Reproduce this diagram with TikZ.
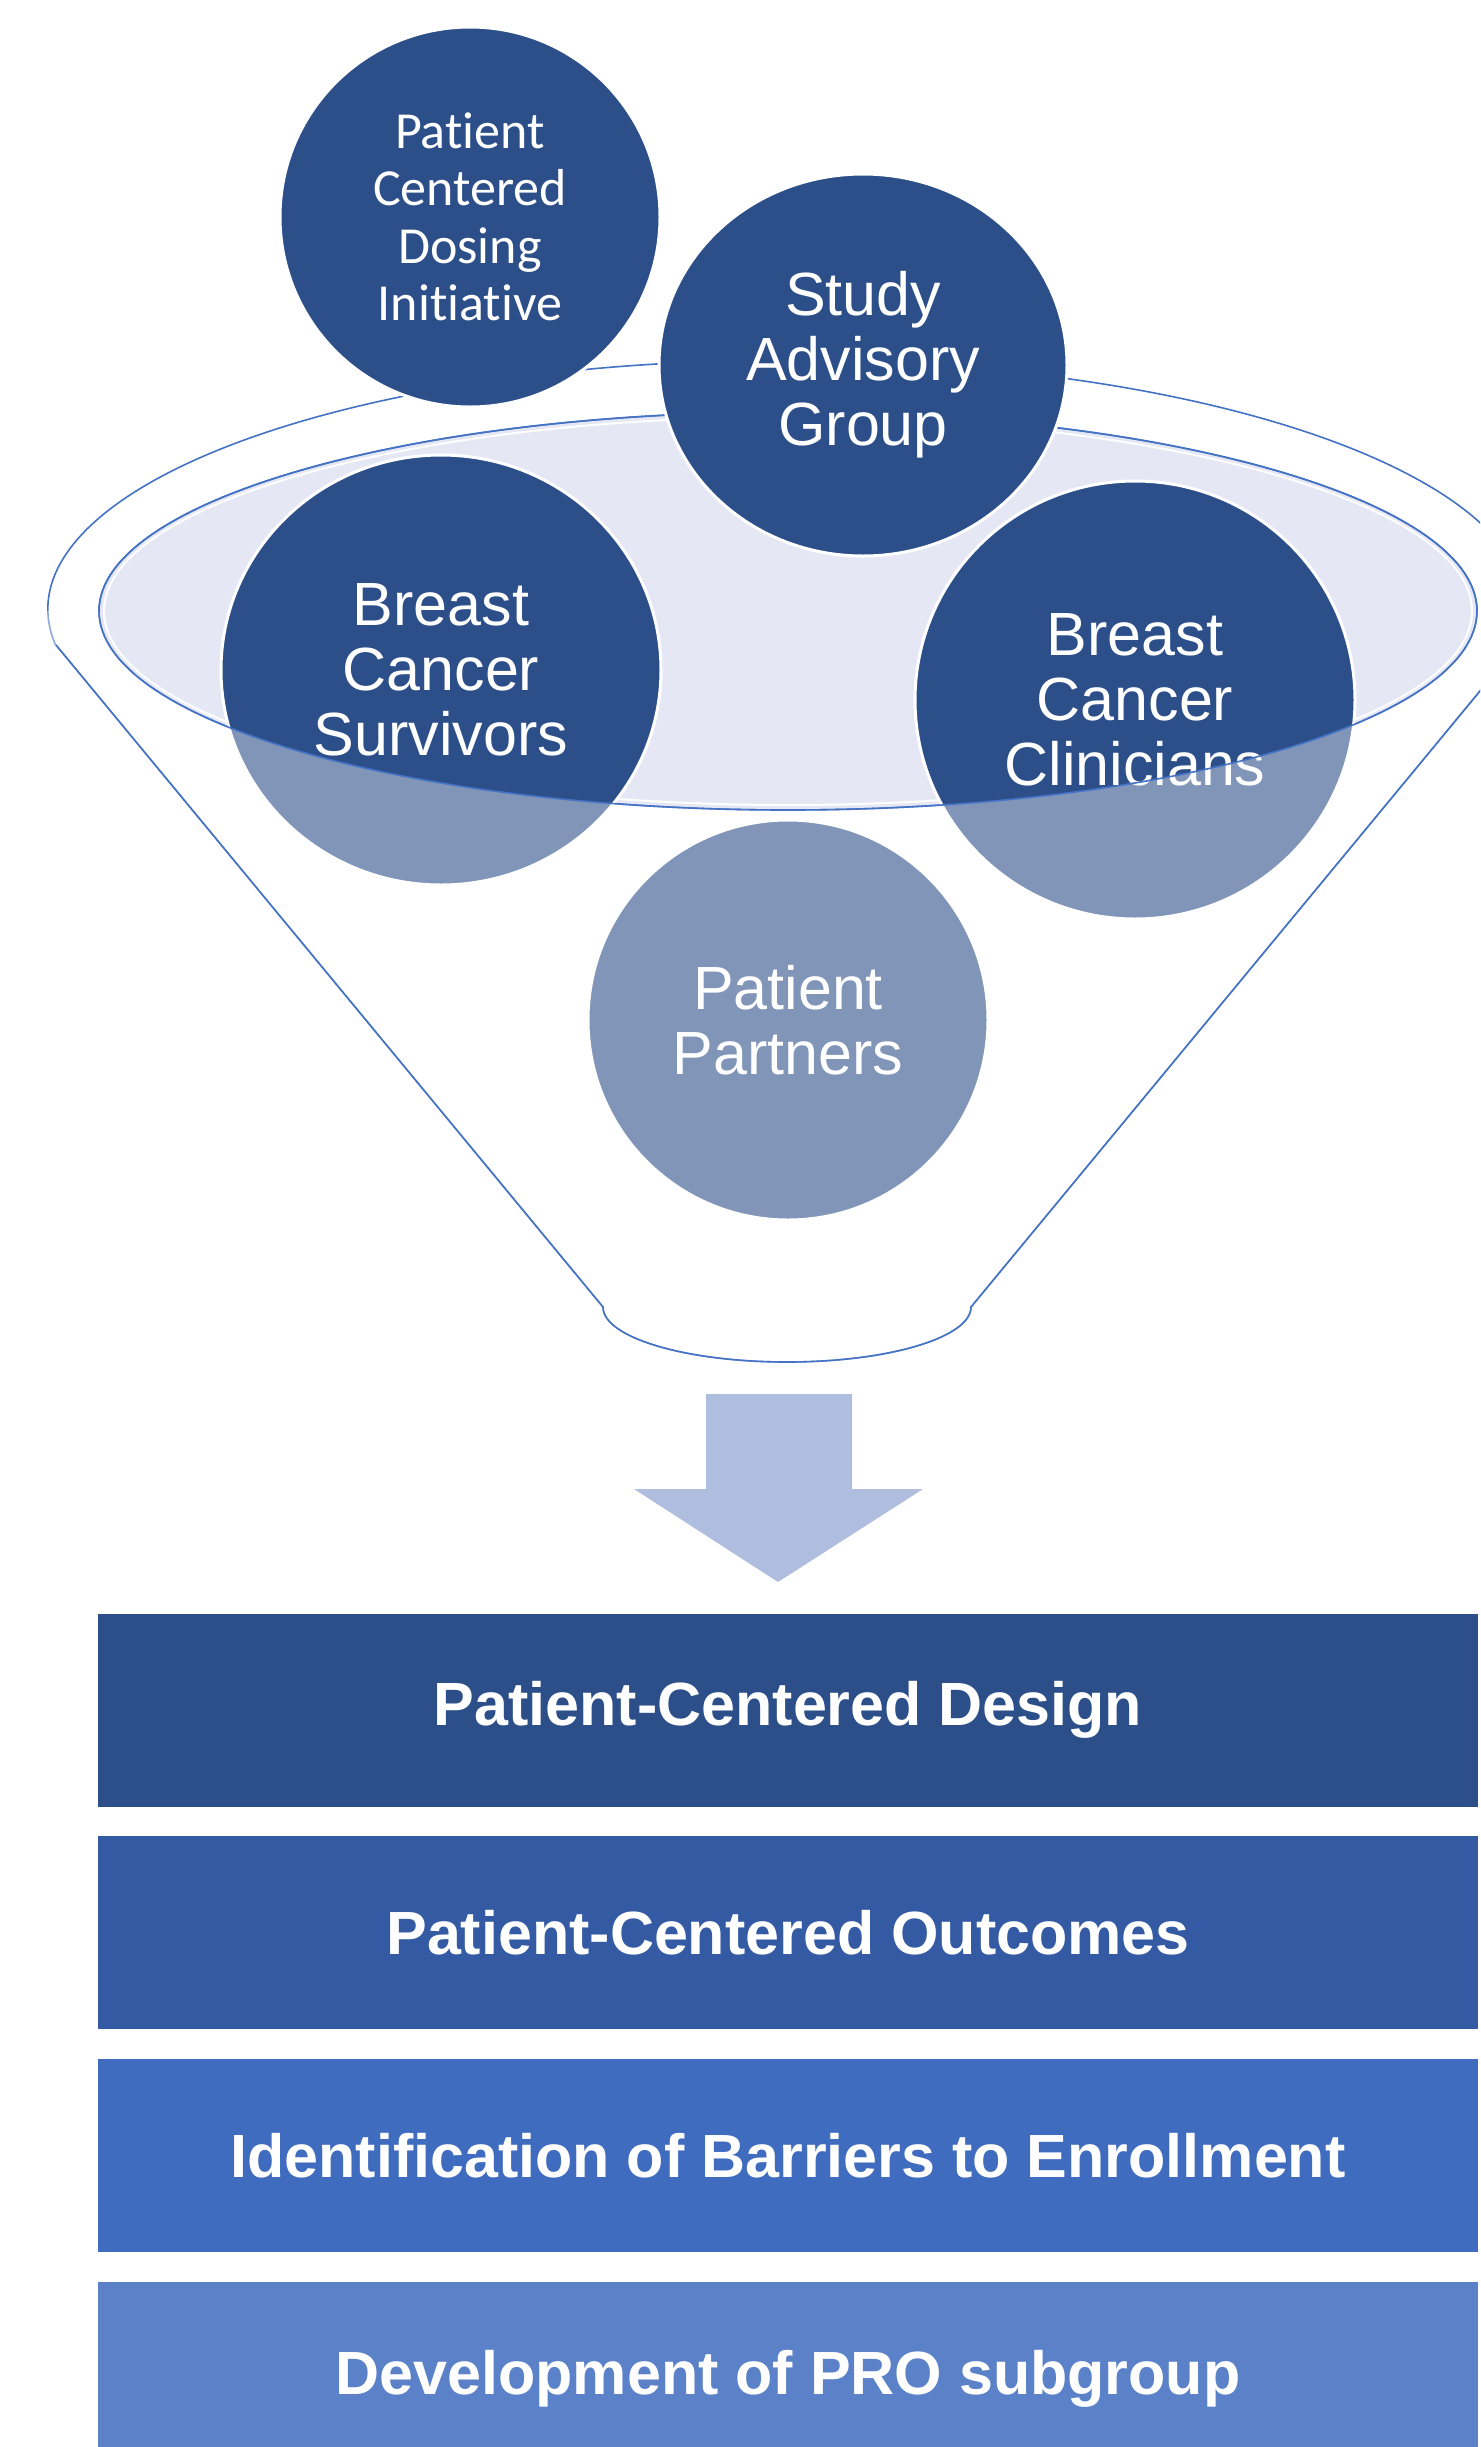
\documentclass[tikz,border=0pt]{standalone}
\usepackage{fontspec}
\setmainfont{Liberation Sans}
\newfontfamily\dosingfont[Ligatures=NoCommon]{Carlito}
\usetikzlibrary{shapes.geometric,positioning}
\definecolor{navy}{HTML}{2C4F8A}
\definecolor{rim}{HTML}{4472C4}
\definecolor{lavender}{HTML}{E5E8F4}
\definecolor{arrowblue}{HTML}{AFBDDE}
\definecolor{barA}{HTML}{2D4F89}
\definecolor{barB}{HTML}{345AA3}
\definecolor{barC}{HTML}{406CC0}
\definecolor{barD}{HTML}{5B82C9}

\begin{document}
\begin{tikzpicture}[x=0.5pt,y=-0.5pt,
  group/.style={ellipse,fill=navy,draw=white,line width=1.5pt,inner sep=0pt,
    text=white,align=center,font=\fontsize{30.5}{32.5}\selectfont},
  outline/.style={draw=rim,line width=0.8pt},
  bar/.style={rectangle,minimum width=690pt,minimum height=96.5pt,inner sep=0pt,
    text=white,font=\bfseries\fontsize{30.5}{34}\selectfont}]
\useasboundingbox (0,0) rectangle (1480,2447);
\clip (0,0) rectangle (1480,2447);
% funnel
\draw[outline] (56,645) -- (603,1307) arc[start angle=180,end angle=0,x radius=184,y radius=55]
  -- (1518,645) arc[start angle=8.3,end angle=-188.3,x radius=739,y radius=249] -- cycle;
\filldraw[fill=lavender,outline] (788,611) ellipse [x radius=689,y radius=199];
\draw[white,line width=1pt] (788,611) ellipse [x radius=684,y radius=194];
% groups inside the funnel
\node[group,minimum width=220pt,minimum height=215pt] (survivors) at (441,670) {Breast\\Cancer\\Survivors};
\node[group,minimum width=220pt,minimum height=219pt] (clinicians) at (1135,700) {Breast\\Cancer\\Clinicians};
\node[group,minimum size=200pt] (partners) at (788,1020) {Patient\\Partners};
% front of the funnel
\fill[white,opacity=0.4] (99,611) arc[start angle=180,end angle=0,x radius=689,y radius=199]
  -- (1480,611) -- (1480,1400) -- (0,1400) -- (0,611) -- cycle;
\draw[outline] (788,611) ellipse [x radius=689,y radius=199];
\draw[outline] (56,645) -- (603,1307) arc[start angle=180,end angle=0,x radius=184,y radius=55] -- (1518,645);
% groups on top
\node[group,minimum width=204pt,minimum height=191pt] (advisory) at (863,365) {Study\\Advisory\\Group};
\node[group,minimum size=190pt,font=\dosingfont\fontsize{26}{28.75}\selectfont] (dosing) at (470,217)
  {Patient\\Centered\\Dosing\\Initiative};
% arrow
\fill[arrowblue] (706,1394) -- (852,1394) -- (852,1489) -- (923,1489) -- (778,1582)
  -- (634,1489) -- (706,1489) -- cycle;
% results
\node[bar,fill=barA] (design) at (788,1710) {Patient-Centered Design};
\node[bar,fill=barB] (outcomes) [below=14.5pt of design] {Patient-Centered Outcomes};
\node[bar,fill=barC] (barriers) [below=14.5pt of outcomes] {Identification of Barriers to Enrollment};
\node[bar,fill=barD] (pro) [below=14.5pt of barriers] {Development of PRO subgroup};
\end{tikzpicture}
\end{document}
